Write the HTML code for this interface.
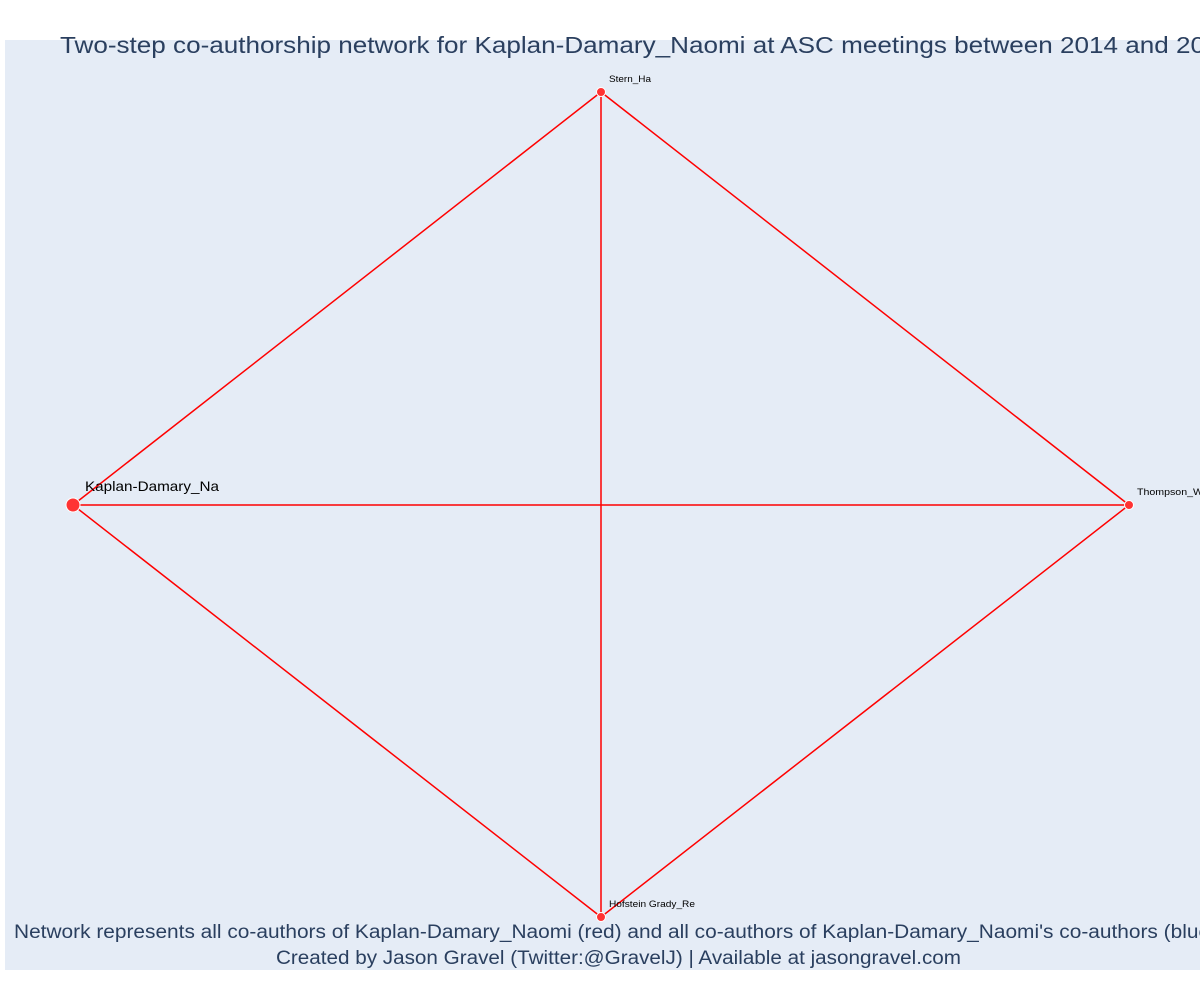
<!DOCTYPE html>
<html><head><style>
html,body{margin:0;padding:0;background:#fff;width:1200px;height:1000px;overflow:hidden}
svg text{font-family:"Liberation Sans",sans-serif}
</style></head><body>
<svg width="1200" height="1000" xmlns="http://www.w3.org/2000/svg">
<rect x="5" y="40" width="1195" height="930" fill="#e5ecf6"/>
<g stroke="#ff0000" stroke-width="1.5" fill="none">
<line x1="73" y1="505" x2="601" y2="92"/>
<line x1="73" y1="505" x2="1129" y2="505"/>
<line x1="73" y1="505" x2="601" y2="917"/>
<line x1="601" y1="92" x2="601" y2="917"/>
<line x1="601" y1="92" x2="1129" y2="505"/>
<line x1="601" y1="917" x2="1129" y2="505"/>
</g>
<g fill="#ff3333" stroke="#fff" stroke-width="1">
<circle cx="73" cy="505" r="7"/>
<circle cx="601" cy="92" r="4.5"/>
<circle cx="1129" cy="505" r="4.5"/>
<circle cx="601" cy="917" r="4.5"/>
</g>
<text x="85" y="491" font-size="14" fill="#000" textLength="134" lengthAdjust="spacingAndGlyphs">Kaplan-Damary_Na</text>
<text x="609" y="82" font-size="9" fill="#000" textLength="42" lengthAdjust="spacingAndGlyphs">Stern_Ha</text>
<text x="1137" y="495" font-size="9" fill="#000" textLength="66" lengthAdjust="spacingAndGlyphs">Thompson_W</text>
<text x="609" y="907" font-size="9" fill="#000" textLength="86" lengthAdjust="spacingAndGlyphs">Hofstein Grady_Re</text>
<text x="60" y="53" font-size="23" fill="#2a3f5f" textLength="1174" lengthAdjust="spacingAndGlyphs">Two-step co-authorship network for Kaplan-Damary_Naomi at ASC meetings between 2014 and 2019</text>
<text x="14" y="938" font-size="19" fill="#2a3f5f" textLength="1203" lengthAdjust="spacingAndGlyphs">Network represents all co-authors of Kaplan-Damary_Naomi (red) and all co-authors of Kaplan-Damary_Naomi's co-authors (blue)</text>
<text x="276" y="964" font-size="19" fill="#2a3f5f" textLength="685" lengthAdjust="spacingAndGlyphs">Created by Jason Gravel (Twitter:@GravelJ) | Available at jasongravel.com</text>
</svg>
</body></html>
